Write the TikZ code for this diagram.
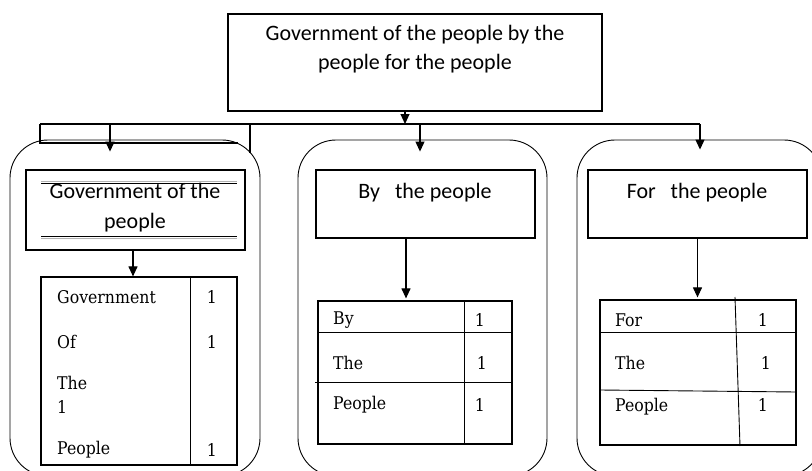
\documentclass[tikz,border=0pt]{standalone}
\usepackage{fontspec}
\setmainfont{DejaVu Serif Condensed}
\newfontfamily\sansf{Carlito}
\usetikzlibrary{arrows.meta}
\tikzset{
  box/.style={draw, rectangle, inner sep=0pt, line width=1.2pt},
  cont/.style={draw, rectangle, rounded corners=38pt, inner sep=0pt, line width=0.9pt},
  arr/.style={-{Triangle[width=9pt,length=10pt]}, line width=1.1pt},
  conn/.style={line width=1.1pt},
  lbl/.style={font=\sansf\fontsize{22}{29}\selectfont, align=center, inner sep=0pt},
  cell/.style={font=\fontsize{17.5}{20}\selectfont, inner sep=0pt, anchor=west},
  num/.style={font=\fontsize{17.5}{20}\selectfont, inner sep=0pt},
  rule/.style={line width=0.9pt}
}
\begin{document}
\begin{tikzpicture}[x=1pt,y=-1pt]
\useasboundingbox (0,0) rectangle (812,471);
\begin{scope}
\clip (0,0) rectangle (812,471);
% containers
\node[cont, minimum width=250pt, minimum height=336pt] (gcont) at (135,308) {};
\node[cont, minimum width=249pt, minimum height=336pt] (bcont) at (422.5,308) {};
\node[cont, minimum width=245pt, minimum height=336pt] (fcont) at (699.5,308) {};
\end{scope}
% top box
\node[box, minimum width=374pt, minimum height=97pt] (top) at (415,62.5) {};
\node[lbl] (toptext) at (415,49.5) {Government of the people by the\\people for the people};
% bus
\coordinate (bt) at (405,124);
\coordinate (bl0) at (40,124);
\coordinate (jl) at (110,124);
\coordinate (jm) at (420,124);
\coordinate (jr) at (700,124);
\coordinate (br) at (250,124);
\draw[arr] ([xshift=-10pt]top.south) -- (bt);
\draw[conn] (bl0) -- (jr);
\draw[conn] (bl0) -- ++(0,19) -- ++(198,0);
\draw[conn] (br) -- ++(0,29);
\draw[arr] (jl) -- ([yshift=-12pt]jl |- gcont.north);
\draw[arr] (jm) -- ([yshift=-12pt]jm |- bcont.north);
\draw[arr] (jr) -- ([yshift=-10pt]jr |- fcont.north);
% left column
\node[box, minimum width=219pt, minimum height=80pt] (gbox) at (135.5,210) {};
\node[lbl, font=\sansf\fontsize{22}{30}\selectfont] (gtext) at (135,208) {Government of the\\people};
\draw[gray!60, line width=1.6pt] (41,181.5) -- (237,181.5);
\draw[line width=0.8pt] (41,183.5) -- (237,183.5);
\draw[line width=0.8pt] (41,236) -- (237,236);
\draw[gray!60, line width=1.6pt] (41,238.3) -- (237,238.3);
\node[box, minimum width=196pt, minimum height=188pt] (gtab) at (139,371) {};
\draw[arr] ([xshift=-2.5pt]gbox.south) -- ([xshift=-2.5pt]gbox.south |- gtab.north);
\draw[rule] (190,277) -- (190,465);
\node[cell] (g1) at (57,297) {Government};
\node[cell] (g2) at (57,342) {Of};
\node[cell] (g3) at (57,383) {The};
\node[cell] (g4) at (57,407) {1};
\node[cell] (g5) at (57,450) {People};
\node[num] (gn1) at (212,297) {1};
\node[num] (gn2) at (212,342) {1};
\node[num] (gn3) at (212,450) {1};
% middle column
\node[box, minimum width=219pt, minimum height=68pt] (bbox) at (425.5,204) {};
\node[lbl] (btext) at (425,193) {By\ \ \ the people};
\node[box, minimum width=194pt, minimum height=143pt] (btab) at (415,372.5) {};
\draw[arr] ([xshift=-19.5pt]bbox.south) -- ([xshift=-19.5pt,yshift=2pt]bbox.south |- btab.north);
\draw[rule] (464,301) -- (464,444);
\draw[rule] (318,332) -- (512,332);
\draw[rule] (315,382) -- (512,382);
\node[cell] (b1) at (333,320) {By};
\node[cell] (b2) at (333,363) {The};
\node[cell] (b3) at (333,405) {People};
\node[num] (bn1) at (480,320) {1};
\node[num] (bn2) at (482,363) {1};
\node[num] (bn3) at (480,405) {1};
% right column
\node[box, minimum width=219pt, minimum height=68pt] (fbox) at (697.5,204) {};
\node[lbl] (ftext) at (697,193) {For\ \ \ the people};
\node[box, minimum width=196pt, minimum height=145pt] (ftab) at (698,372.5) {};
\draw[arr] (fbox.south) -- ([yshift=2pt]fbox.south |- ftab.north);
\draw[rule] (735,297) -- (740,446);
\draw[rule] (600,332) -- (796,332);
\draw[rule] (600,390) -- (796,392);
\node[cell] (f1) at (615,320) {For};
\node[cell] (f2) at (615,363) {The};
\node[cell] (f3) at (615,407) {People};
\node[num] (fn1) at (763,320) {1};
\node[num] (fn2) at (766,363) {1};
\node[num] (fn3) at (763,405) {1};
\end{tikzpicture}
\end{document}
